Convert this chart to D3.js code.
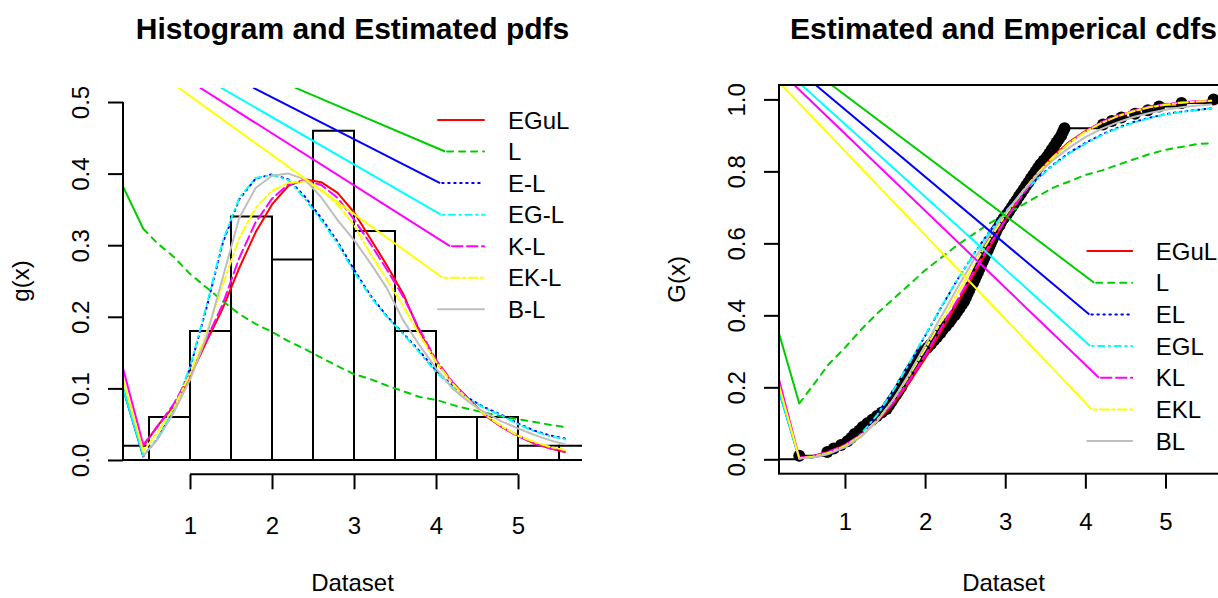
<!DOCTYPE html>
<html><head><meta charset="utf-8">
<script src="https://cdn.jsdelivr.net/npm/d3@7"></script>
<style>
body{margin:0;background:#fff}
svg{display:block}
text{font-family:"Liberation Sans",Arial,Helvetica,sans-serif;fill:#000}
</style>
</head><body>
<svg id="c" width="1218" height="598"></svg>
<script>
// ---------- data ----------
const xGrid = [0.43,0.6,0.8,1.0,1.2,1.4,1.6,1.8,2.0,2.2,2.4,2.6,2.8,3.0,3.2,3.4,3.6,3.8,4.0,4.2,4.4,4.6,4.8,5.0,5.2,5.4,5.57];

const pdfNames = ["EGuL","L","E-L","EG-L","K-L","EK-L","B-L"];
const cdfNames = ["EGuL","L","EL","EGL","KL","EKL","BL"];
const seriesColors = ["#FF0000","#00CD00","#0000FF","#00FFFF","#FF00FF","#FFFF00","#BEBEBE"];
const seriesDash = [null,"6,6","1.5,4.5","1.5,4.5,6,4.5","10.5,4.5","3,3,9,3",null];

const pdfEGuL = [0.019,0.047,0.075,0.116,0.165,0.212,0.268,0.318,0.357,0.383,0.392,0.388,0.373,0.346,0.309,0.272,0.232,0.179,0.137,0.108,0.085,0.062,0.046,0.034,0.023,0.016,0.011];
const pdfL    = [0.323,0.303,0.284,0.260,0.241,0.222,0.204,0.190,0.179,0.166,0.155,0.143,0.131,0.120,0.113,0.104,0.096,0.088,0.084,0.077,0.071,0.066,0.061,0.057,0.053,0.049,0.046];
const pdfEL   = [0.005,0.029,0.069,0.128,0.212,0.303,0.364,0.393,0.399,0.392,0.368,0.338,0.305,0.266,0.230,0.201,0.177,0.152,0.125,0.104,0.086,0.073,0.063,0.051,0.041,0.034,0.030];
const pdfEGL  = [0.006,0.030,0.070,0.130,0.215,0.306,0.366,0.394,0.398,0.391,0.365,0.335,0.302,0.263,0.228,0.200,0.176,0.150,0.123,0.102,0.085,0.072,0.062,0.050,0.040,0.033,0.029];
const pdfKL   = [0.021,0.046,0.078,0.119,0.168,0.218,0.282,0.332,0.365,0.385,0.391,0.384,0.366,0.336,0.302,0.266,0.228,0.182,0.140,0.109,0.085,0.063,0.046,0.033,0.023,0.016,0.012];
const pdfEKL  = [0.012,0.038,0.072,0.120,0.177,0.245,0.310,0.352,0.376,0.387,0.389,0.377,0.357,0.328,0.288,0.252,0.215,0.175,0.137,0.107,0.083,0.063,0.047,0.034,0.025,0.018,0.014];
const pdfBL   = [0.006,0.028,0.066,0.112,0.172,0.255,0.338,0.380,0.397,0.400,0.392,0.367,0.335,0.307,0.275,0.240,0.195,0.160,0.128,0.100,0.081,0.066,0.054,0.044,0.035,0.027,0.022];

const cdfEGuL = [0.004,0.009,0.021,0.039,0.067,0.105,0.153,0.212,0.280,0.355,0.432,0.510,0.587,0.664,0.733,0.793,0.843,0.882,0.912,0.935,0.953,0.967,0.978,0.986,0.991,0.994,0.996];
const cdfL    = [0.155,0.205,0.265,0.310,0.360,0.405,0.445,0.485,0.525,0.560,0.595,0.625,0.655,0.680,0.705,0.730,0.755,0.772,0.790,0.802,0.818,0.833,0.848,0.860,0.868,0.876,0.878];
const cdfEL   = [0.002,0.005,0.015,0.035,0.069,0.121,0.188,0.264,0.343,0.422,0.498,0.568,0.632,0.689,0.738,0.781,0.819,0.852,0.879,0.902,0.921,0.937,0.949,0.959,0.966,0.971,0.975];
const cdfEGL  = [0.002,0.005,0.016,0.036,0.070,0.123,0.190,0.266,0.345,0.423,0.498,0.567,0.630,0.687,0.736,0.779,0.817,0.850,0.877,0.900,0.919,0.935,0.948,0.958,0.965,0.971,0.975];
const cdfKL   = [0.004,0.009,0.021,0.040,0.068,0.107,0.157,0.219,0.289,0.365,0.442,0.519,0.594,0.665,0.730,0.790,0.840,0.880,0.912,0.937,0.955,0.969,0.980,0.987,0.992,0.995,0.997];
const cdfEKL  = [0.003,0.007,0.018,0.037,0.066,0.108,0.165,0.232,0.306,0.382,0.460,0.536,0.610,0.678,0.740,0.794,0.840,0.879,0.910,0.934,0.953,0.967,0.978,0.985,0.991,0.994,0.996];
const cdfBL   = [0.002,0.005,0.015,0.033,0.062,0.105,0.165,0.237,0.316,0.396,0.475,0.551,0.621,0.683,0.740,0.790,0.832,0.866,0.895,0.918,0.936,0.951,0.962,0.971,0.978,0.983,0.986];

const histBreaks  = [0,0.5,1,1.5,2,2.5,3,3.5,4,4.5,5,5.5,6];
const histDensity = [0.02,0.06,0.18,0.34,0.28,0.46,0.32,0.18,0.06,0.06,0.02,0.02];

const dataset = [0.43,
 0.78,0.86,0.95,
 1.03,1.08,1.12,1.18,1.22,1.28,1.34,1.40,1.46,
 1.52,1.55,1.58,1.61,1.64,1.67,1.70,1.72,1.75,1.78,1.80,1.83,1.86,1.89,1.92,1.95,1.98,
 2.03,2.07,2.11,2.15,2.19,2.22,2.26,2.30,2.33,2.37,2.40,2.43,2.46,2.49,
 2.51,2.53,2.55,2.57,2.60,2.62,2.64,2.66,2.68,2.70,2.72,2.74,2.76,2.78,2.80,2.82,2.84,2.86,2.88,2.90,2.93,2.95,2.98,
 3.02,3.05,3.08,3.11,3.14,3.17,3.20,3.23,3.26,3.29,3.32,3.35,3.38,3.41,3.44,3.48,
 3.52,3.55,3.58,3.61,3.64,3.67,3.70,3.72,3.74,
 4.22,4.33,4.45,
 4.62,4.78,4.92,
 5.20,
 5.60];

// left-edge values where the solid lead-in segments start
const pdfEdgeStart = [null,0.382,0.100,0.100,0.128,0.112,null];
const cdfEdgeStart = [null,0.350,0.190,0.190,0.222,0.205,null];
// x where the long solid lines cross the top of the plot
const pdfLeadTopX = [null,2.28,1.77,1.378,1.122,0.86,null];
const cdfLeadTopX = [null,0.834,0.635,0.46,0.368,0.211,null];
// x (legend units) where these lines meet the legend rows
const legendJoinX = [null,4.11,4.05,4.06,4.17,4.08,null];

const xTicks = [1,2,3,4,5];
const pdfYTicks = [0,0.1,0.2,0.3,0.4,0.5];
const cdfYTicks = [0,0.2,0.4,0.6,0.8,1.0];

const pdfSeries = [pdfEGuL,pdfL,pdfEL,pdfEGL,pdfKL,pdfEKL,pdfBL];
const cdfSeries = [cdfEGuL,cdfL,cdfEL,cdfEGL,cdfKL,cdfEKL,cdfBL];

// ---------- drawing ----------
const svg = d3.select("#c");
svg.append("rect").attr("width",1218).attr("height",598).attr("fill","#fff");
const FONT = 24, LW = 2;

function panel(o){
  const x = o.x, y = o.y;
  const [x0,x1] = x.range(), [yb,yt] = y.range();
  svg.append("clipPath").attr("id",o.id).append("rect")
    .attr("x",x0).attr("y",yt).attr("width",x1-x0).attr("height",yb-yt);
  const plot = svg.append("g").attr("clip-path",`url(#${o.id})`);
  const line = d3.line().x(d=>x(d[0])).y(d=>y(d[1]));

  if (o.hist){
    plot.append("g").selectAll("path").data(histDensity).join("path")
      .attr("d",(d,i)=>{const a=x(histBreaks[i]),b=x(histBreaks[i+1]),t=y(d),z=y(0);
        return `M${a},${z}L${a},${t}L${b},${t}L${b},${z}Z`;})
      .attr("fill","none").attr("stroke","#000").attr("stroke-width",LW);
  }
  if (o.ecdf){
    const n = dataset.length;
    const g = plot.append("g");
    const segs = [[x.domain()[0],dataset[0],0]];
    dataset.forEach((v,i)=>segs.push([v, i<n-1?dataset[i+1]:x.domain()[1], (i+1)/n]));
    g.selectAll("line").data(segs).join("line")
      .attr("x1",d=>x(d[0])).attr("x2",d=>x(d[1])).attr("y1",d=>y(d[2])).attr("y2",d=>y(d[2]))
      .attr("stroke","#000").attr("stroke-width",LW);
    g.selectAll("circle").data(dataset).join("circle")
      .attr("cx",d=>x(d)).attr("cy",(d,i)=>y((i+1)/n)).attr("r",6).attr("fill","#000");
  }
  // curves
  o.series.forEach((vals,i)=>{
    const pts = xGrid.map((g,j)=>[g,vals[j]]);
    if (o.edge[i]!=null){
      plot.append("path").attr("d",line([[x.domain()[0],o.edge[i]],pts[0]]))
        .attr("fill","none").attr("stroke",seriesColors[i]).attr("stroke-width",LW);
    }
    const p = plot.append("path").attr("d",line(pts)).attr("fill","none")
      .attr("stroke",seriesColors[i]).attr("stroke-width",LW)
      .attr("stroke-linecap","round").attr("stroke-linejoin","round");
    if (seriesDash[i]) p.attr("stroke-dasharray",seriesDash[i]);
  });
  // legend (with the long solid lead-in lines)
  const lx0 = 4.024, lx1 = 4.585, ltx = 4.878;
  o.names.forEach((nm,i)=>{
    const ry = o.legTop - i*o.legStep;
    let sx = lx0;
    if (o.leadTop[i]!=null){
      plot.append("path").attr("d",line([[o.leadTop[i],y.domain()[1]],[legendJoinX[i],ry]]))
        .attr("fill","none").attr("stroke",seriesColors[i]).attr("stroke-width",LW);
      sx = legendJoinX[i]+0.025;
    }
    const p = plot.append("path").attr("d",line([[sx,ry],[lx1,ry]])).attr("fill","none")
      .attr("stroke",seriesColors[i]).attr("stroke-width",LW).attr("stroke-linecap","round");
    if (seriesDash[i]) p.attr("stroke-dasharray",seriesDash[i]);
    svg.append("text").attr("x",x(ltx)).attr("y",y(ry)).attr("dy","0.36em")
      .attr("font-size",FONT).text(nm);
  });
  // frame
  if (o.box){
    svg.append("rect").attr("x",x0).attr("y",yt).attr("width",x1-x0).attr("height",yb-yt)
      .attr("fill","none").attr("stroke","#000").attr("stroke-width",LW);
  }
  // axes
  const ax = svg.append("g").attr("transform",`translate(0,${yb})`)
    .call(d3.axisBottom(x).tickValues(xTicks).tickSize(15).tickFormat(d3.format("d")));
  const ay = svg.append("g").attr("transform",`translate(${x0},0)`)
    .call(d3.axisLeft(y).tickValues(o.yTicks).tickSize(15).tickFormat(d3.format(".1f")));
  [ax,ay].forEach(a=>{
    a.select(".domain").remove();
    a.selectAll(".tick line").attr("stroke","#000").attr("stroke-width",LW);
    a.selectAll(".tick text").attr("font-size",FONT).attr("fill","#000")
      .attr("font-family","'Liberation Sans',Arial,Helvetica,sans-serif");
  });
  ax.selectAll(".tick text").attr("y",o.tickLabY).attr("dy",0);
  ay.selectAll(".tick text").attr("x",0).attr("y",-34.5).attr("dy",0)
    .attr("text-anchor","middle").attr("transform","rotate(-90)");
  if (!o.box){
    svg.append("line").attr("x1",x(xTicks[0])).attr("x2",x(xTicks[xTicks.length-1]))
      .attr("y1",yb).attr("y2",yb).attr("stroke","#000").attr("stroke-width",LW);
    svg.append("line").attr("x1",x0).attr("x2",x0)
      .attr("y1",y(o.yTicks[0])).attr("y2",y(o.yTicks[o.yTicks.length-1]))
      .attr("stroke","#000").attr("stroke-width",LW);
  }
  // titles
  const cx = (x0+x1)/2, cy = (yb+yt)/2;
  svg.append("text").attr("x",cx).attr("y",39).attr("text-anchor","middle")
    .attr("font-size",30).attr("font-weight","bold").text(o.title);
  svg.append("text").attr("x",cx).attr("y",591).attr("text-anchor","middle")
    .attr("font-size",FONT).text("Dataset");
  svg.append("text").attr("transform",`translate(${x0-94.5},${cy}) rotate(-90)`)
    .attr("text-anchor","middle").attr("font-size",FONT).text(o.ylab);
}

panel({
  id:"clipL", title:"Histogram and Estimated pdfs", ylab:"g(x)",
  x:d3.scaleLinear([0.183,5.78],[123,582]),
  y:d3.scaleLinear([-0.02,0.52],[474.3,87.7]),
  hist:true, series:pdfSeries, edge:pdfEdgeStart, leadTop:pdfLeadTopX,
  names:pdfNames, legTop:0.475, legStep:0.0441, yTicks:pdfYTicks, box:false, tickLabY:60
});
panel({
  id:"clipR", title:"Estimated and Emperical cdfs", ylab:"G(x)",
  x:d3.scaleLinear([0.177,5.78],[779,1228]),
  y:d3.scaleLinear([-0.04,1.04],[473.7,85]),
  ecdf:true, series:cdfSeries, edge:cdfEdgeStart, leadTop:cdfLeadTopX,
  names:cdfNames, legTop:0.5786, legStep:0.088, yTicks:cdfYTicks, box:true, tickLabY:56
});
</script>
</body></html>
